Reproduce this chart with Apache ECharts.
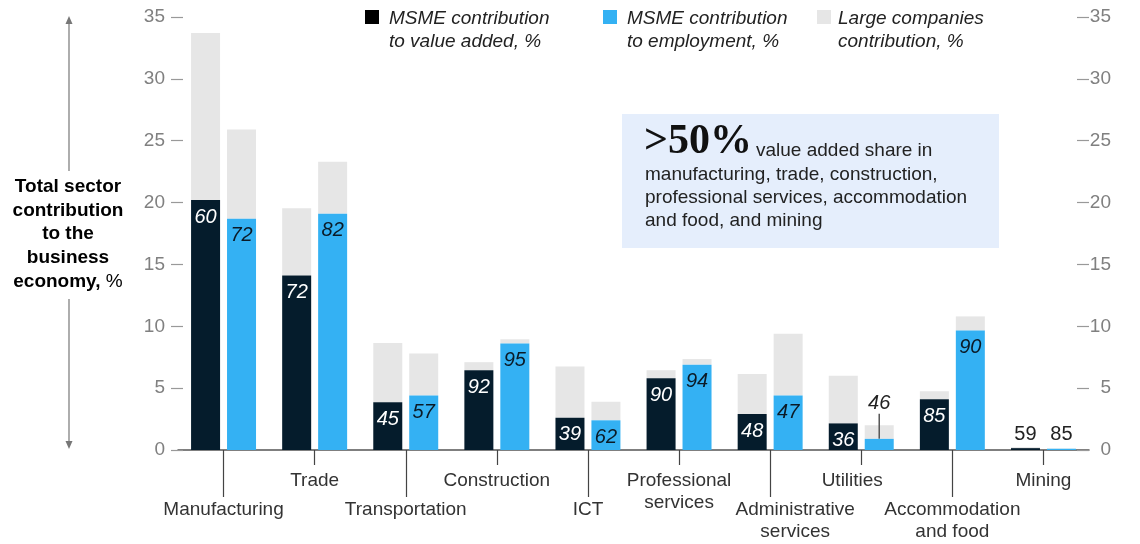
<!DOCTYPE html>
<html>
<head>
<meta charset="utf-8">
<script src="https://cdn.jsdelivr.net/npm/echarts@6/dist/echarts.min.js"></script>
<style>
html, body {margin: 0; padding: 0; background: #fff;}
#contain {width: 1140px; height: 544px;}
</style>
</head>
<body>
<div id="contain"></div>
<script>
var sectors = ['Manufacturing', 'Trade', 'Transportation', 'Construction', 'ICT', 'Professional\nservices',
    'Administrative\nservices', 'Utilities', 'Accommodation\nand food', 'Mining'];
// heights of the stacked pieces, % of business economy
var msmeValueAdded = [20.2, 14.1, 3.85, 6.45, 2.6, 5.8, 2.9, 2.15, 4.1, 0.15];
var largeValueAdded = [13.5, 5.45, 4.8, 0.65, 4.15, 0.65, 3.25, 3.85, 0.65, 0.08];
var msmeEmployment = [18.7, 19.1, 4.4, 8.6, 2.4, 6.9, 4.4, 0.9, 9.65, 0.1];
var largeEmployment = [7.2, 4.2, 3.4, 0.35, 1.5, 0.45, 5.0, 1.1, 1.15, 0.03];
// MSME share labels, %
var valueAddedShare = [60, 72, 45, 92, 39, 90, 48, 36, 85, 59];
var employmentShare = [72, 82, 57, 95, 62, 94, 47, 46, 90, 85];

var FONT = "'Liberation Sans', Arial, sans-serif";
var DARK = '#051c2c', BLUE = '#34b1f3', GREY = '#e6e6e6';

function msmeData(values, shares) {
    var out = [];
    for (var i = 0; i < values.length; i++) {
        var item = {value: values[i], share: shares[i]};
        if (i === sectors.length - 1) {
            // mining: bars too thin, label sits above
            item.label = {position: 'top', distance: 4, fontStyle: 'normal', color: '#222'};
        }
        out.push(item);
    }
    return out;
}

var vaData = msmeData(msmeValueAdded, valueAddedShare);
var empData = msmeData(msmeEmployment, employmentShare);
// utilities employment label is lifted with a leader line
empData[7].label = {position: 'top', distance: 5, color: '#222'};
empData[7].labelLine = {show: true, lineStyle: {color: '#555', width: 1.5}};

// nudge some category labels sideways like the original
var categoryData = sectors.map(function (s, i) {
    if (i === 6) return {value: s, textStyle: {padding: [0, 0, 0, 50]}};
    if (i === 7) return {value: s, textStyle: {padding: [0, 18, 0, 0]}};
    return s;
});

var myChart = echarts.init(document.getElementById('contain'));

var barLabel = function (color) {
    return {
        show: true,
        position: 'insideTop',
        distance: 7,
        fontFamily: FONT,
        fontSize: 20,
        fontStyle: 'italic',
        color: color,
        formatter: function (p) { return p.data.share; }
    };
};

var yAxisBase = {
    type: 'value',
    min: 0,
    max: 35,
    interval: 5,
    axisLine: {show: false},
    splitLine: {show: false},
    axisTick: {show: true, length: 12, lineStyle: {color: '#999', width: 1.2}},
    axisLabel: {fontFamily: FONT, fontSize: 19, color: '#808080'}
};

var option = {
    animation: false,
    backgroundColor: '#fff',
    textStyle: {fontFamily: FONT},
    grid: {left: 178, right: 51, top: 17, bottom: 94},
    xAxis: [
        {
            type: 'category',
            data: categoryData,
            axisLine: {show: true, lineStyle: {color: '#555', width: 1.5}},
            axisTick: {
                show: true, alignWithLabel: true, length: 47,
                interval: function (i) { return i % 2 === 0; },
                lineStyle: {color: '#444', width: 1.2}
            },
            axisLabel: {
                interval: function (i) { return i % 2 === 0; },
                margin: 49, fontFamily: FONT, fontSize: 19, color: '#333', lineHeight: 22
            }
        },
        {
            type: 'category',
            data: categoryData,
            position: 'bottom',
            axisLine: {show: false},
            axisTick: {
                show: true, alignWithLabel: true, length: 15,
                interval: function (i) { return i % 2 === 1; },
                lineStyle: {color: '#444', width: 1.2}
            },
            axisLabel: {
                interval: function (i) { return i % 2 === 1; },
                margin: 20, fontFamily: FONT, fontSize: 19, color: '#333', lineHeight: 22
            }
        }
    ],
    yAxis: [
        Object.assign({}, yAxisBase, {position: 'left', offset: -5,
            axisLabel: Object.assign({}, yAxisBase.axisLabel, {margin: 18})}),
        Object.assign({}, yAxisBase, {position: 'right',
            axisTick: Object.assign({}, yAxisBase.axisTick, {inside: true}),
            axisLabel: Object.assign({}, yAxisBase.axisLabel, {margin: 22, align: 'right'})})
    ],
    series: [
        {
            name: 'MSME contribution to value added, %',
            type: 'bar', stack: 'va', barWidth: 29, barGap: '24%', z: 3,
            itemStyle: {color: DARK},
            label: barLabel('#fff'),
            data: vaData
        },
        {
            name: 'Large companies value added',
            type: 'bar', stack: 'va', barWidth: 29, barGap: '24%', z: 1,
            itemStyle: {color: GREY},
            data: largeValueAdded
        },
        {
            name: 'MSME contribution to employment, %',
            type: 'bar', stack: 'emp', barWidth: 29, barGap: '24%', z: 3,
            itemStyle: {color: BLUE},
            label: barLabel('#0b1a26'),
            labelLayout: function (p) {
                if (p.dataIndex === 7) return {dy: -20};
            },
            data: empData
        },
        {
            name: 'Large companies employment',
            type: 'bar', stack: 'emp', barWidth: 29, barGap: '24%', z: 1,
            itemStyle: {color: GREY},
            data: largeEmployment
        }
    ],
    graphic: [
        // legend
        {type: 'rect', left: 365, top: 10, shape: {width: 14, height: 14}, style: {fill: '#000'}},
        {type: 'text', left: 389, top: 7, style: {text: 'MSME contribution\nto value added, %', font: 'italic 19px ' + FONT, lineHeight: 23, fill: '#222'}},
        {type: 'rect', left: 603, top: 10, shape: {width: 14, height: 14}, style: {fill: BLUE}},
        {type: 'text', left: 627, top: 7, style: {text: 'MSME contribution\nto employment, %', font: 'italic 19px ' + FONT, lineHeight: 23, fill: '#222'}},
        {type: 'rect', left: 817, top: 10, shape: {width: 14, height: 14}, style: {fill: GREY}},
        {type: 'text', left: 838, top: 7, style: {text: 'Large companies\ncontribution, %', font: 'italic 19px ' + FONT, lineHeight: 23, fill: '#222'}},
        // callout
        {type: 'rect', left: 622, top: 114, shape: {width: 377, height: 134}, style: {fill: '#e5eefc'}},
        {type: 'text', x: 644, y: 142, style: {text: '>50%', font: 'bold 42px "Liberation Serif", "DejaVu Serif", serif', fill: '#111', verticalAlign: 'middle'}},
        {type: 'text', x: 756, y: 151, style: {text: 'value added share in', font: '19px ' + FONT, fill: '#222', verticalAlign: 'middle'}},
        {type: 'text', x: 645, y: 163.5, style: {text: 'manufacturing, trade, construction,\nprofessional services, accommodation\nand food, and mining', font: '19px ' + FONT, lineHeight: 23, fill: '#222', verticalAlign: 'top'}},
        // y axis title with arrows
        {type: 'text', x: 68, y: 175, style: {
            text: '{b|Total sector}\n{b|contribution}\n{b|to the}\n{b|business}\n{b|economy,}{n| %}',
            align: 'center', verticalAlign: 'top',
            rich: {
                b: {fontFamily: FONT, fontSize: 19, fontWeight: 'bold', color: '#6a6a6a', lineHeight: 23.7},
                n: {fontFamily: FONT, fontSize: 19, color: '#6a6a6a', lineHeight: 23.7}
            }
        }},
        {type: 'line', shape: {x1: 69, y1: 22, x2: 69, y2: 171}, style: {stroke: '#777', lineWidth: 1.2}},
        {type: 'polygon', shape: {points: [[69, 16], [65.5, 24], [72.5, 24]]}, style: {fill: '#777'}},
        {type: 'line', shape: {x1: 69, y1: 299, x2: 69, y2: 443}, style: {stroke: '#777', lineWidth: 1.2}},
        {type: 'polygon', shape: {points: [[69, 449], [65.5, 441], [72.5, 441]]}, style: {fill: '#777'}}
    ]
};
myChart.setOption(option);
</script>
</body>
</html>
